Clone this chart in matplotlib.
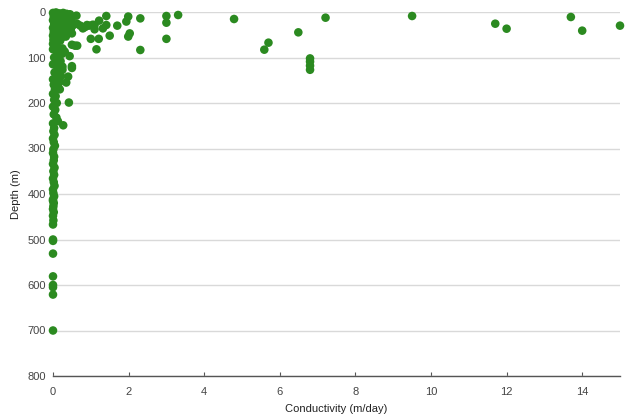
import matplotlib
matplotlib.use("Agg")
import matplotlib.pyplot as plt

plt.rcParams['font.family'] = ['Liberation Sans', 'DejaVu Sans']

# conductivity (m/day) and depth (m)
# dense near-surface cluster
surf_k = [0.00, 0.08, 0.17, 0.27, 0.36, 0.45,
          0.02, 0.12, 0.22, 0.31, 0.40, 0.50,
          0.00, 0.10, 0.19, 0.29, 0.38, 0.48,
          0.03, 0.13, 0.24, 0.33, 0.43, 0.52,
          0.00, 0.09, 0.18, 0.28, 0.37, 0.47,
          0.02, 0.11, 0.21, 0.30, 0.41, 0.50,
          0.00, 0.08, 0.16, 0.25, 0.34,
          0.01, 0.10, 0.19, 0.00, 0.09,
          0.50, 0.58, 0.64, 0.25, 0.31, 0.44]
surf_d = [2, 1, 3, 2, 4, 5,
          10, 9, 11, 10, 12, 13,
          18, 19, 17, 20, 18, 21,
          27, 26, 28, 27, 29, 30,
          35, 36, 34, 37, 35, 38,
          44, 43, 45, 46, 44, 47,
          52, 53, 51, 55, 54,
          61, 60, 63, 70, 72,
          72, 74, 74, 80, 87, 97]

# middle depths, x below ~0.5
mid_k = [0.00, 0.08, 0.16, 0.24, 0.03, 0.12, 0.20,
         0.00, 0.09, 0.17, 0.25, 0.04, 0.13, 0.21,
         0.00, 0.10, 0.18, 0.02, 0.11, 0.05, 0.14,
         0.50, 0.50, 0.40, 0.35, 0.25, 0.18,
         0.00, 0.07, 0.03, 0.10, 0.00, 0.06, 0.02, 0.09,
         0.42, 0.27, 0.13]
mid_d = [82, 85, 88, 92, 100, 104, 108,
         115, 118, 122, 127, 133, 137, 141,
         148, 150, 153, 160, 163, 170, 158,
         119, 123, 142, 155, 120, 170,
         180, 185, 193, 200, 208, 215, 225, 232,
         199, 249, 240]

# deep column near zero
deep_k = [0.00, 0.03, 0.01, 0.04, 0.00, 0.02, 0.05, 0.01, 0.00, 0.03,
          0.02, 0.00, 0.04, 0.01, 0.03, 0.00, 0.02, 0.04, 0.00, 0.01,
          0.03, 0.00, 0.02, 0.01, 0.00, 0.02, 0.00, 0.01, 0.00, 0.00,
          0.00, 0.00, 0.00, 0.00, 0.00, 0.00, 0.00, 0.00]
deep_d = [245, 255, 262, 270, 278, 286, 294, 302, 310, 318,
          326, 334, 342, 350, 358, 366, 374, 382, 390, 398,
          405, 412, 420, 427, 433, 440, 448, 458, 467, 500,
          503, 531, 581, 600, 605, 621, 700, 415]

# scattered higher-conductivity points
high_k = [0.62, 0.64, 0.72, 0.79, 0.85, 0.90, 0.95, 1.00, 1.05, 1.10, 1.10, 1.15,
          1.21, 1.22, 1.32, 1.41, 1.41, 1.50, 1.70, 1.94, 1.99, 1.99, 2.03, 2.31,
          2.31, 3.00, 3.00, 3.00, 3.31, 4.79, 5.59, 5.70, 6.49, 6.80, 6.80, 6.80,
          6.80, 7.21, 9.50, 11.70, 12.00, 13.70, 14.00, 15.00]
high_d = [8, 26, 30, 36, 33, 28.6, 30, 59, 28, 38, 28.6, 82,
          59, 19, 36, 8.8, 28.6, 52, 30, 21, 10, 54, 47, 14,
          83.5, 8.8, 23.5, 59, 6.6, 15.4, 82.8, 67.4, 44.7, 102, 109, 118,
          127, 12.5, 8.8, 25.7, 36.7, 11, 41, 30]

conductivity = surf_k + mid_k + deep_k + high_k
depth = surf_d + mid_d + deep_d + high_d

fig = plt.figure(figsize=(6.34, 4.20), dpi=100)
ax = fig.add_axes([53 / 634, 1 - 376 / 420, (620 - 53) / 634, (376 - 12) / 420])

ax.scatter(conductivity, depth, s=38, color='#2b8a20', edgecolors='none',
           clip_on=False, zorder=3)

ax.set_xlim(0, 15)
ax.set_ylim(800, 0)
ax.set_xticks(range(0, 15, 2))
ax.set_yticks(range(0, 801, 100))

ax.grid(axis='y', color='#d9d9d9', linewidth=1)
ax.set_axisbelow(True)
for side in ['top', 'right', 'left']:
    ax.spines[side].set_visible(False)
ax.spines['bottom'].set_color('#555555')
ax.spines['bottom'].set_linewidth(1)

ax.tick_params(axis='x', direction='in', length=3, color='#555555',
               labelsize=8, labelcolor='#444444', pad=8)
ax.tick_params(axis='y', length=0, labelsize=8, labelcolor='#444444', pad=5)

ax.set_xlabel('Conductivity (m/day)', fontsize=8, color='#222222', labelpad=5)
ax.set_ylabel('Depth (m)', fontsize=8, color='#222222', labelpad=5)

fig.savefig('out.png', dpi=100)
